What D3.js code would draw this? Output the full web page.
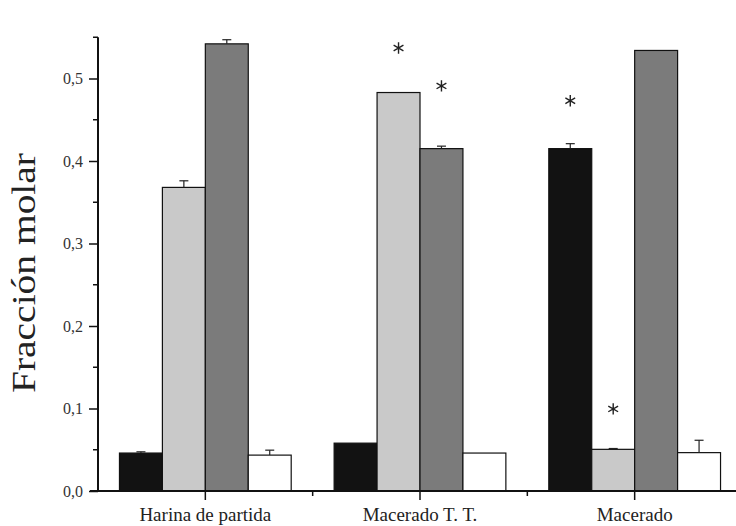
<!DOCTYPE html>
<html>
<head>
<meta charset="utf-8">
<script src="https://cdn.jsdelivr.net/npm/d3@7"></script>
<style>
  html, body { margin: 0; padding: 0; background: #fff; }
  svg { display: block; }
</style>
</head>
<body>
<svg id="chart" width="736" height="526"></svg>
<script>
// Muestras (grupos del eje X)
const categories = ["Harina de partida", "Macerado T. T.", "Macerado"];
// Cuatro fracciones por muestra (negro, gris claro, gris oscuro, blanco)
const series = ["s1", "s2", "s3", "s4"];
const valuesS1 = [0.046, 0.058, 0.415];
const valuesS2 = [0.368, 0.483, 0.0505];
const valuesS3 = [0.542, 0.415, 0.534];
const valuesS4 = [0.0435, 0.046, 0.0465];
// Desviación (solo se dibuja la rama superior)
const errorsS1 = [0.0015, 0, 0.006];
const errorsS2 = [0.008, 0, 0.001];
const errorsS3 = [0.005, 0.003, 0];
const errorsS4 = [0.006, 0, 0.015];
// Diferencias significativas: [muestra, serie, altura del asterisco]
const significance = [
  ["Macerado T. T.", "s2", 0.537],
  ["Macerado T. T.", "s3", 0.491],
  ["Macerado", "s1", 0.473],
  ["Macerado", "s2", 0.0995]
];
const yTicks = [0, 0.1, 0.2, 0.3, 0.4, 0.5];
const yMinorTicks = [0.05, 0.15, 0.25, 0.35, 0.45, 0.55];
const yLabel = "Fracción molar";

const seriesValues = { s1: valuesS1, s2: valuesS2, s3: valuesS3, s4: valuesS4 };
const seriesErrors = { s1: errorsS1, s2: errorsS2, s3: errorsS3, s4: errorsS4 };
const fills = { s1: "#121212", s2: "#c9c9c9", s3: "#7b7b7b", s4: "#ffffff" };

const rows = [];
categories.forEach((c, i) => series.forEach(s => rows.push({
  category: c, series: s, value: seriesValues[s][i], err: seriesErrors[s][i]
})));

const svg = d3.select("#chart");
const serif = "'Liberation Serif', 'DejaVu Serif', serif";

const x = d3.scaleBand().domain(categories).range([98, 742]).paddingInner(0).paddingOuter(0);
const xs = d3.scaleBand().domain(series).range([0, x.bandwidth()]).paddingInner(0).paddingOuter(0.5);
const y = d3.scaleLinear().domain([0, 0.55]).range([491, 37.25]);

const locale = d3.formatLocale({ decimal: ",", thousands: ".", grouping: [3], currency: ["", "€"] });
const fmt = locale.format(".1f");

// Barras
svg.append("g").selectAll("rect").data(rows).join("rect")
  .attr("x", d => x(d.category) + xs(d.series))
  .attr("y", d => y(d.value))
  .attr("width", xs.bandwidth())
  .attr("height", d => y(0) - y(d.value))
  .attr("fill", d => fills[d.series])
  .attr("stroke", "#111")
  .attr("stroke-width", 1.2);

// Barras de error
const eg = svg.append("g").attr("stroke", "#222").attr("stroke-width", 1.2);
rows.filter(d => d.err > 0).forEach(d => {
  const cx = x(d.category) + xs(d.series) + xs.bandwidth() / 2;
  eg.append("line").attr("x1", cx).attr("x2", cx)
    .attr("y1", y(d.value)).attr("y2", y(d.value + d.err));
  eg.append("line").attr("x1", cx - 4.5).attr("x2", cx + 4.5)
    .attr("y1", y(d.value + d.err)).attr("y2", y(d.value + d.err));
});

// Asteriscos
const star = d3.symbol().type(d3.symbolAsterisk).size(90);
svg.append("g").selectAll("path").data(significance).join("path")
  .attr("d", star)
  .attr("transform", d => `translate(${x(d[0]) + xs(d[1]) + xs.bandwidth() / 2},${y(d[2])})`)
  .attr("fill", "none").attr("stroke", "#222").attr("stroke-width", 1.4);

// Eje Y
const yAxis = svg.append("g").attr("transform", "translate(98,0)");
yAxis.call(d3.axisLeft(y).tickValues(yTicks).tickSize(9).tickSizeOuter(0).tickFormat(fmt));
yAxis.select(".domain").remove();
yAxis.selectAll(".tick line").attr("stroke", "#111").attr("stroke-width", 1.5);
yAxis.selectAll(".tick text").attr("x", -15).attr("font-family", serif)
  .attr("font-size", 16).attr("fill", "#333");
yAxis.append("g").selectAll("line").data(yMinorTicks).join("line")
  .attr("x1", -5).attr("x2", 0).attr("y1", d => y(d)).attr("y2", d => y(d))
  .attr("stroke", "#111").attr("stroke-width", 1.5);
yAxis.append("line").attr("x1", 0).attr("x2", 0).attr("y1", y(0) + 1).attr("y2", y(0.55))
  .attr("stroke", "#111").attr("stroke-width", 2);

// Eje X
const xAxis = svg.append("g").attr("transform", `translate(0,${y(0)})`);
xAxis.call(d3.axisBottom(x).tickSize(9).tickSizeOuter(0));
xAxis.select(".domain").remove();
xAxis.append("line").attr("x1", 90).attr("x2", 742).attr("y1", 0).attr("y2", 0)
  .attr("stroke", "#111").attr("stroke-width", 1.8);
xAxis.selectAll(".tick line").attr("stroke", "#111").attr("stroke-width", 1.5);
xAxis.selectAll(".tick text").attr("y", 30).attr("dy", 0)
  .attr("font-family", serif).attr("font-size", 19).attr("fill", "#222");
xAxis.append("g").selectAll("line").data(categories.slice(1)).join("line")
  .attr("x1", d => x(d)).attr("x2", d => x(d)).attr("y1", 0).attr("y2", 5)
  .attr("stroke", "#111").attr("stroke-width", 1.5);

// Título del eje Y
svg.append("text")
  .attr("transform", "translate(35,273) rotate(-90)")
  .attr("text-anchor", "middle")
  .attr("font-family", serif).attr("font-size", 34).attr("fill", "#222")
  .attr("textLength", 240).attr("lengthAdjust", "spacingAndGlyphs")
  .text(yLabel);
</script>
</body>
</html>
